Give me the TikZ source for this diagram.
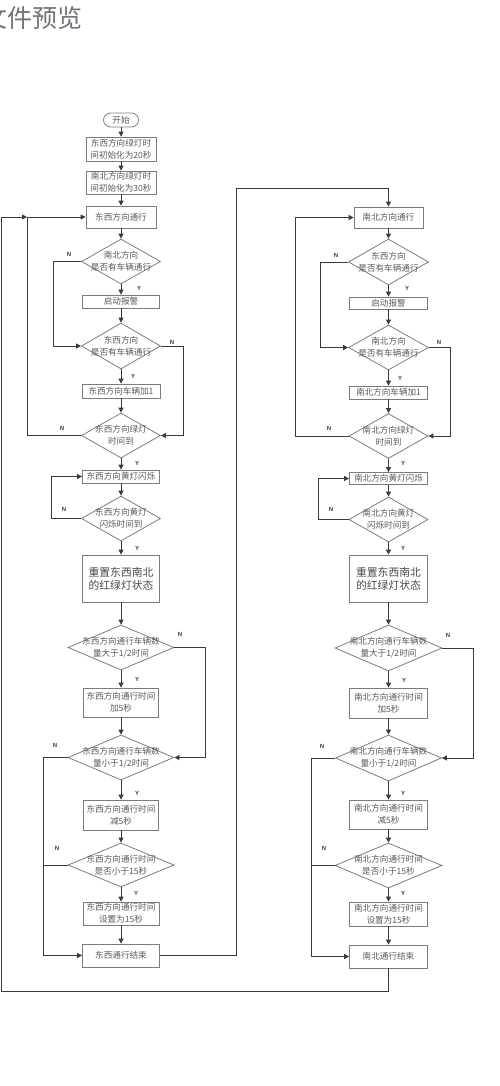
\documentclass[tikz,border=0pt]{standalone}
\usepackage{fontspec}
\newfontfamily\cjk{Noto Sans CJK SC}
\setsansfont{Liberation Sans}
\usetikzlibrary{shapes.geometric,arrows.meta}
\definecolor{txtgray}{HTML}{5A5A5A}
\definecolor{boxgray}{HTML}{7C7C7C}
\definecolor{linegray}{HTML}{3A3A3A}
\definecolor{titlegray}{HTML}{6E747A}
\begin{document}
\begin{tikzpicture}[x=1pt,y=-1pt,
  every node/.style={font=\cjk\fontsize{8.6}{12}\selectfont, text=txtgray},
  box/.style={draw=boxgray, line width=0.8pt, rectangle, inner sep=0pt, align=center},
  dia/.style={draw=boxgray, line width=0.8pt, diamond, inner sep=0pt},
  lab/.style={align=center, inner sep=0pt},
  big/.style={font=\cjk\fontsize{10.8}{13}\selectfont, text=txtgray!80!black},
  yn/.style={font=\sffamily\bfseries\fontsize{6}{7}\selectfont, text=linegray, inner sep=0pt},
  flow/.style={draw=linegray, line width=0.9pt},
  arr/.style={flow, -{Triangle[length=5pt,width=5pt]}},
]
\useasboundingbox (0,0) rectangle (500,1086);
\node[font=\cjk\fontsize{25}{25}\selectfont, text=titlegray, anchor=west, inner sep=0pt] (title) at (-18,18) {文件预览};

% ---------------- left column ----------------
\node[box, rounded corners=7pt, minimum width=35, minimum height=14] (start) at (121,120) {开始};
\node[box, minimum width=70, minimum height=24] (b1) at (121,149) {东西方向绿灯时\\间初始化为20秒};
\node[box, minimum width=70, minimum height=23] (b2) at (121,182.5) {南北方向绿灯时\\间初始化为30秒};
\node[box, minimum width=70, minimum height=22] (b3) at (121,217) {东西方向通行};
\node[dia, minimum width=79, minimum height=45] (d1) at (121,261.5) {};
\node[lab] at (d1) {南北方向\\是否有车辆通行};
\node[box, minimum width=77, minimum height=13] (b4) at (121,301.5) {启动报警};
\node[dia, minimum width=79, minimum height=46] (d2) at (121,346) {};
\node[lab] at (d2) {东西方向\\是否有车辆通行};
\node[box, minimum width=78, minimum height=14] (b5) at (121,391) {东西方向车辆加1};
\node[dia, minimum width=79, minimum height=45] (d3) at (121,435.5) {};
\node[lab] at (d3) {东西方向绿灯\\时间到};
\node[box, minimum width=77, minimum height=13] (b6) at (121,476.5) {东西方向黄灯闪烁};
\node[dia, minimum width=79, minimum height=45] (d4) at (121,518.5) {};
\node[lab] at (d4) {东西方向黄灯\\闪烁时间到};
\node[box, big, minimum width=77, minimum height=47] (b7) at (121,578.5) {重置东西南北\\的红绿灯状态};
\node[dia, minimum width=106, minimum height=45] (d5) at (121,647.5) {};
\node[lab] at (d5) {东西方向通行车辆数\\量大于1/2时间};
\node[box, minimum width=75, minimum height=29] (b8) at (121,702.5) {东西方向通行时间\\加5秒};
\node[dia, minimum width=106, minimum height=45] (d6) at (121,757.5) {};
\node[lab] at (d6) {东西方向通行车辆数\\量小于1/2时间};
\node[box, minimum width=75, minimum height=30] (b9) at (121,815) {东西方向通行时间\\减5秒};
\node[dia, minimum width=106, minimum height=44] (d7) at (121,865) {};
\node[lab] at (d7) {东西方向通行时间\\是否小于15秒};
\node[box, minimum width=76, minimum height=23] (b10) at (121,913.5) {东西方向通行时间\\设置为15秒};
\node[box, minimum width=77, minimum height=23] (b11) at (121,955.5) {东西通行结束};

% ---------------- right column ----------------
\node[box, minimum width=69, minimum height=21] (rb3) at (388.5,217.5) {南北方向通行};
\node[dia, minimum width=80, minimum height=46] (rd1) at (388.5,262) {};
\node[lab] at (rd1) {东西方向\\是否有车辆通行};
\node[box, minimum width=78, minimum height=12] (rb4) at (388.5,303) {启动报警};
\node[dia, minimum width=80, minimum height=45] (rd2) at (388.5,347.5) {};
\node[lab] at (rd2) {南北方向\\是否有车辆通行};
\node[box, minimum width=78, minimum height=13] (rb5) at (388.5,392.5) {南北方向车辆加1};
\node[dia, minimum width=79, minimum height=45] (rd3) at (388.5,436) {};
\node[lab] at (rd3) {南北方向绿灯\\时间到};
\node[box, minimum width=78, minimum height=12] (rb6) at (388.5,478.5) {南北方向黄灯闪烁};
\node[dia, minimum width=79, minimum height=45] (rd4) at (388.5,519.5) {};
\node[lab] at (rd4) {南北方向黄灯\\闪烁时间到};
\node[box, big, minimum width=78, minimum height=47] (rb7) at (388.5,578.5) {重置东西南北\\的红绿灯状态};
\node[dia, minimum width=107, minimum height=46] (rd5) at (388.5,648) {};
\node[lab] at (rd5) {南北方向通行车辆数\\量大于1/2时间};
\node[box, minimum width=78, minimum height=30] (rb8) at (388.5,703) {南北方向通行时间\\加5秒};
\node[dia, minimum width=106, minimum height=46] (rd6) at (388.5,758) {};
\node[lab] at (rd6) {南北方向通行车辆数\\量小于1/2时间};
\node[box, minimum width=78, minimum height=29] (rb9) at (388.5,814.5) {南北方向通行时间\\减5秒};
\node[dia, minimum width=107, minimum height=45] (rd7) at (388.5,865.5) {};
\node[lab] at (rd7) {南北方向通行时间\\是否小于15秒};
\node[box, minimum width=78, minimum height=24] (rb10) at (388.5,914) {南北方向通行时间\\设置为15秒};
\node[box, minimum width=78, minimum height=23] (rb11) at (388.5,956.5) {南北通行结束};

% ---------------- main flow ----------------
\foreach \a/\b in {start/b1,b1/b2,b2/b3,b3/d1,d1/b4,b4/d2,d2/b5,b5/d3,d3/b6,b6/d4,d4/b7,b7/d5,d5/b8,b8/d6,d6/b9,b9/d7,d7/b10,b10/b11,
  rb3/rd1,rd1/rb4,rb4/rd2,rd2/rb5,rb5/rd3,rd3/rb6,rb6/rd4,rd4/rb7,rb7/rd5,rd5/rb8,rb8/rd6,rd6/rb9,rb9/rd7,rd7/rb10,rb10/rb11}
  \draw[arr] (\a) -- (\b);

% ---------------- left loops ----------------
\coordinate (jn) at (27,217);
\draw[arr] (d1.west) -- (53,261.5) |- (d2.west);
\draw[arr] (d2.east) -- (183,346) |- (d3.east);
\draw[arr] (d3.west) -| (jn) -- (b3.west);
\draw[arr] (d4.west) -- (51,518.5) |- (b6.west);
\draw[arr] (d5.east) -- (205,647.5) |- (d6.east);
\draw[arr] (d6.west) -- (43,757.5) |- (b11.west);
\draw[flow] (d7.west) -- (43,865);
\draw[arr] (b11.east) -| (236,188) -| (rb3.north);

% ---------------- right loops ----------------
\draw[arr] (rd1.west) -- (320,262) |- (rd2.west);
\draw[arr] (rd2.east) -- (450,347.5) |- (rd3.east);
\draw[arr] (rd3.west) -- (295,436) |- (rb3.west);
\draw[arr] (rd4.west) -- (318,519.5) |- (rb6.west);
\draw[arr] (rd5.east) -- (473,648) |- (rd6.east);
\draw[arr] (rd6.west) -- (311,758) |- (rb11.west);
\draw[flow] (rd7.west) -- (311,865.5);
\draw[arr] (rb11.south) -- (388.5,991.5) -- (1,991.5) -- (1,217) -- (jn);

% ---------------- Y / N labels ----------------
\foreach \p in {(69,254),(172,342),(62,428),(64,509),(180,634),(55,745),(57,848),
  (336,255),(439,342),(329,428),(331,509),(448,635),(322,746),(324,848)}
  \node[yn] at \p {N};
\foreach \p in {(139,288),(133,376),(137,463),(137,548),(137,679),(137,793),(136,893),
  (407,288),(400,378),(403,463),(403,548),(404,680),(403,793),(403,893)}
  \node[yn] at \p {Y};
\end{tikzpicture}
\end{document}
